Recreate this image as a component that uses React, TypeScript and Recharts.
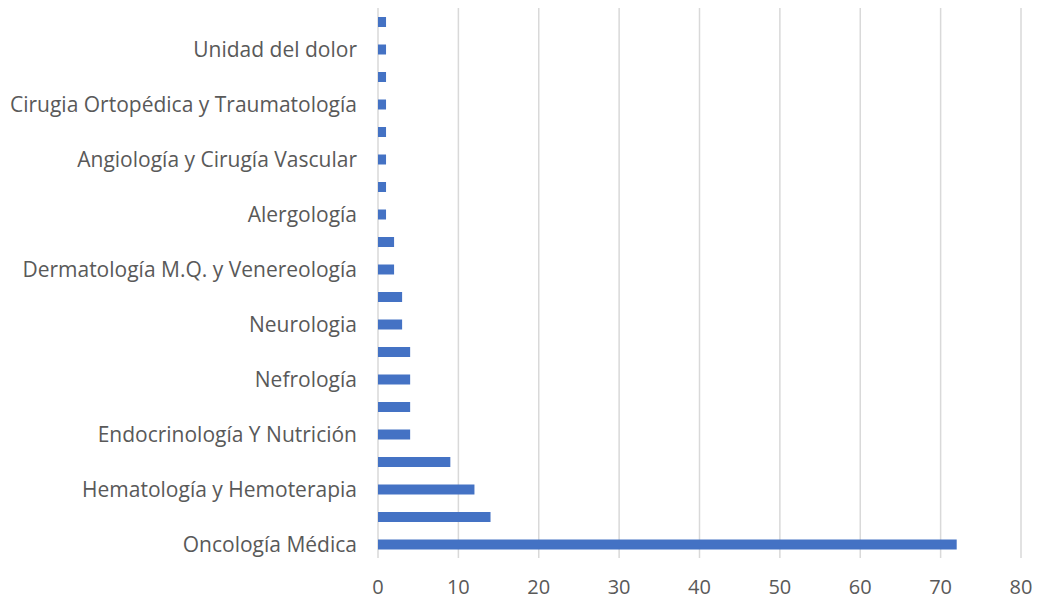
import { Bar, BarChart, CartesianGrid, XAxis, YAxis } from 'recharts';

// bottom-up order (first = bottom bar)
const specialties = [
  'Oncología Médica',
  'Oncología Radioterápica',
  'Hematología y Hemoterapia',
  'Reumatología',
  'Endocrinología Y Nutrición',
  'Medicina Interna',
  'Nefrología',
  'Aparato Digestivo',
  'Neurologia',
  'Cardiología',
  'Dermatología M.Q. y Venereología',
  'Neumología',
  'Alergología',
  'Oftalmología',
  'Angiología y Cirugía Vascular',
  'Urología',
  'Cirugia Ortopédica y Traumatología',
  'Ginecología',
  'Unidad del dolor',
  'Otorrinolaringología',
];
const counts = [72, 14, 12, 9, 4, 4, 4, 4, 3, 3, 2, 2, 1, 1, 1, 1, 1, 1, 1, 1];
const xTicks = [0, 10, 20, 30, 40, 50, 60, 70, 80];

const data = specialties.map((name, i) => ({ name, value: counts[i] }));

const font = "'Open Sans', sans-serif";

export default function App() {
  return (
    <div style={{ position: 'fixed', left: 0, top: 0, width: 1039, height: 602, background: '#fff' }}>
      <BarChart
        width={1039}
        height={602}
        data={data}
        layout="vertical"
        margin={{ top: 8, right: 18, bottom: 0, left: 0 }}
        barCategoryGap={0}
      >
        <CartesianGrid horizontal={false} stroke="#d9d9d9" strokeWidth={1.5} />
        <XAxis
          type="number"
          domain={[0, 80]}
          ticks={xTicks}
          axisLine={false}
          tickLine={false}
          tickSize={0}
          tickMargin={22}
          height={44}
          tick={{ fill: '#595959', fontSize: 20, fontFamily: font }}
        />
        <YAxis
          type="category"
          dataKey="name"
          reversed
          width={378}
          interval={0}
          axisLine={false}
          tickLine={false}
          tickSize={0}
          tickMargin={21}
          tickFormatter={(v: string, i: number) => (i % 2 === 0 ? v : '')}
          tick={{ fill: '#595959', fontSize: 21, fontFamily: font }}
        />
        <Bar dataKey="value" fill="#4472C4" barSize={10} isAnimationActive={false} />
      </BarChart>
    </div>
  );
}
